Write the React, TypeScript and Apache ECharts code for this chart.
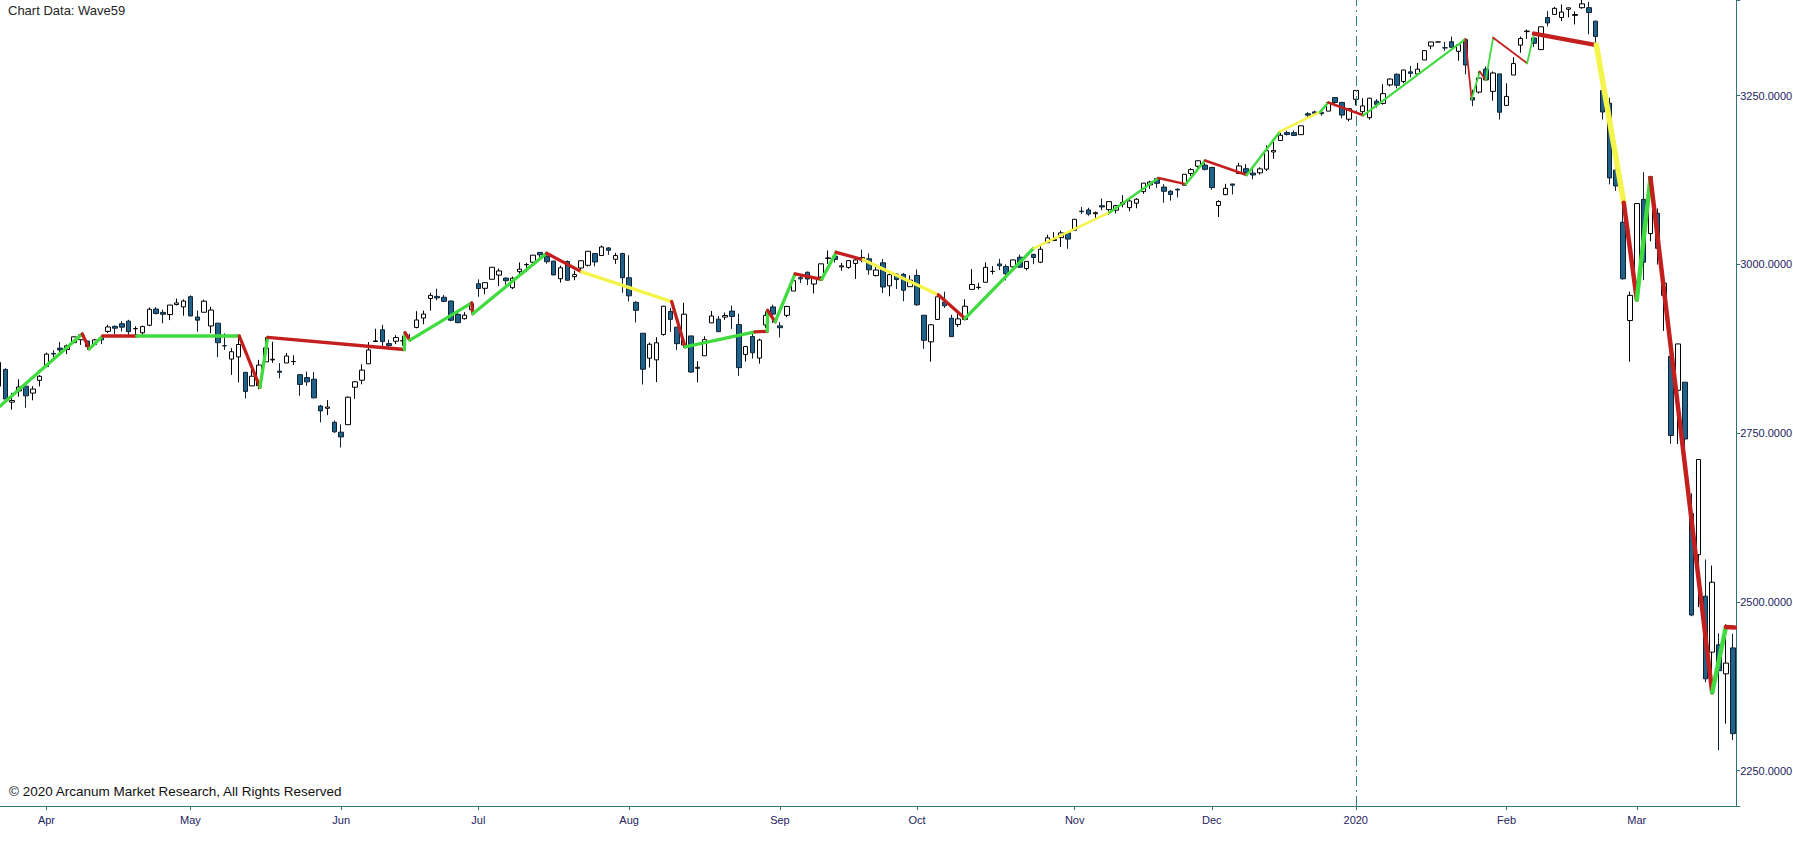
import React, { useEffect, useRef } from "react";
import * as echarts from "echarts";

// ---------- categories (trading days, as listed in the chart's data) ----------
const tradingDays: [string, number[]][] = [
  ["2019-03", [21, 22, 25, 26, 27, 28, 29]],
  ["2019-04", [1, 2, 3, 4, 5, 8, 9, 10, 11, 12, 15, 16, 17, 18, 22, 23, 24, 25, 26, 29, 30]],
  ["2019-05", [1, 2, 3, 6, 7, 8, 9, 10, 13, 14, 15, 16, 17, 20, 21, 22, 23, 24, 28, 29, 30, 31]],
  ["2019-06", [3, 4, 5, 6, 7, 10, 11, 12, 13, 14, 17, 18, 19, 20, 21, 24, 25, 26, 27, 28]],
  ["2019-07", [1, 2, 3, 5, 8, 9, 10, 11, 12, 15, 16, 17, 18, 19, 22, 23, 24, 25, 26, 29, 30, 31]],
  ["2019-08", [1, 2, 5, 6, 7, 8, 9, 12, 13, 14, 15, 16, 19, 20, 21, 22, 23, 26, 27, 28, 29, 30]],
  ["2019-09", [3, 4, 5, 6, 9, 10, 11, 12, 13, 16, 17, 18, 19, 20, 23, 24, 25, 26, 27, 30]],
  ["2019-10", [1, 2, 3, 4, 7, 8, 9, 10, 11, 14, 15, 16, 17, 18, 21, 22, 23, 24, 25, 28, 29, 30, 31]],
  ["2019-11", [1, 4, 5, 6, 7, 8, 11, 12, 13, 14, 15, 18, 19, 20, 21, 22, 25, 26, 27, 29]],
  ["2019-12", [2, 3, 4, 5, 6, 9, 10, 11, 12, 13, 16, 17, 18, 19, 20, 23, 24, 26, 27, 30, 31]],
  ["2020-01", [2, 3, 6, 7, 8, 9, 10, 13, 14, 15, 16, 17, 20, 21, 22, 23, 24, 27, 28, 29, 30, 31]],
  ["2020-02", [3, 4, 5, 6, 7, 10, 11, 12, 13, 14, 18, 19, 20, 21, 24, 25, 26, 27, 28]],
  ["2020-03", [2, 3, 4, 5, 6, 9, 10, 11, 12, 13, 16, 17, 18, 19, 20]],
];

const monthNames = ["Jan", "Feb", "Mar", "Apr", "May", "Jun", "Jul", "Aug", "Sep", "Oct", "Nov", "Dec"];

// ---------- prices: [open, high, low, close] ----------
const ohlcMar19 = [
  [2819.72, 2860.31, 2817.38, 2854.88], [2844.52, 2846.16, 2800.47, 2800.71], [2796.01, 2809.79, 2785.02, 2798.36],
  [2812.66, 2829.87, 2803.99, 2818.46], [2819.72, 2825.56, 2787.72, 2805.37], [2809.4, 2819.71, 2798.77, 2815.44],
  [2828.27, 2836.03, 2819.23, 2834.4],
];
const ohlcApr19 = [
  [2848.63, 2869.4, 2848.63, 2867.19], [2868.24, 2872.9, 2858.75, 2867.24], [2876.09, 2885.25, 2865.17, 2873.4],
  [2873.99, 2881.28, 2867.14, 2879.39], [2884.16, 2893.24, 2882.99, 2892.74], [2888.46, 2895.95, 2880.78, 2895.77],
  [2886.58, 2886.88, 2873.33, 2878.2], [2881.37, 2889.71, 2879.13, 2888.21], [2891.92, 2893.42, 2881.99, 2888.32],
  [2900.86, 2910.54, 2898.37, 2907.41], [2908.32, 2909.6, 2896.48, 2905.58], [2912.26, 2916.06, 2900.71, 2907.06],
  [2916.04, 2918.0, 2895.45, 2900.45], [2904.81, 2908.4, 2891.9, 2905.03], [2898.78, 2909.51, 2896.35, 2907.97],
  [2909.99, 2936.31, 2908.53, 2933.68], [2934.0, 2936.83, 2926.05, 2927.25], [2928.99, 2933.1, 2912.84, 2926.17],
  [2925.81, 2939.88, 2917.56, 2939.88], [2940.58, 2949.52, 2939.35, 2943.03], [2937.14, 2948.22, 2924.11, 2945.83],
];
const ohlcMay19 = [
  [2952.33, 2954.13, 2923.36, 2923.73], [2922.16, 2931.68, 2900.5, 2917.52], [2929.21, 2947.85, 2929.21, 2945.64],
  [2908.89, 2937.32, 2898.21, 2932.47], [2913.03, 2913.03, 2862.6, 2884.05], [2879.61, 2897.96, 2873.28, 2879.42],
  [2859.84, 2875.97, 2836.4, 2870.72], [2863.1, 2891.31, 2825.39, 2881.4], [2840.19, 2840.19, 2801.43, 2811.87],
  [2820.12, 2852.54, 2820.12, 2834.41], [2820.38, 2858.68, 2815.08, 2850.96], [2855.8, 2892.15, 2855.8, 2876.32],
  [2858.6, 2885.48, 2854.23, 2859.53], [2841.94, 2853.86, 2831.29, 2840.23], [2854.02, 2868.88, 2854.02, 2864.36],
  [2856.06, 2865.47, 2851.11, 2856.27], [2836.7, 2836.7, 2805.49, 2822.24], [2832.41, 2841.36, 2820.19, 2826.06],
  [2830.03, 2840.51, 2801.58, 2802.39], [2790.25, 2792.03, 2766.06, 2783.02], [2786.94, 2799.0, 2776.74, 2788.86],
  [2766.15, 2768.98, 2750.52, 2752.06],
];
const ohlcJun19 = [
  [2751.53, 2763.07, 2728.81, 2744.45], [2762.64, 2804.49, 2762.64, 2803.27], [2818.09, 2827.28, 2800.92, 2826.15],
  [2828.51, 2852.1, 2822.45, 2843.49], [2852.87, 2884.97, 2852.87, 2873.34], [2885.83, 2904.77, 2885.51, 2886.73],
  [2903.27, 2910.61, 2878.53, 2885.72], [2882.73, 2888.57, 2874.68, 2879.84], [2886.24, 2895.24, 2881.99, 2891.64],
  [2886.82, 2894.45, 2879.62, 2886.98], [2889.75, 2897.27, 2887.3, 2889.67], [2906.71, 2930.79, 2905.44, 2917.75],
  [2920.55, 2931.74, 2911.43, 2926.46], [2949.6, 2958.06, 2931.5, 2954.18], [2952.71, 2964.15, 2946.87, 2950.46],
  [2951.42, 2954.92, 2944.05, 2945.35], [2945.78, 2946.52, 2916.01, 2917.38], [2926.07, 2932.59, 2912.99, 2913.78],
  [2919.66, 2929.3, 2918.57, 2924.92], [2932.94, 2943.98, 2929.05, 2941.76],
];
const ohlcJul19 = [
  [2971.41, 2977.93, 2952.22, 2964.33], [2964.66, 2973.21, 2955.92, 2973.01], [2978.08, 2995.84, 2977.96, 2995.82],
  [2984.25, 2994.03, 2967.97, 2990.41], [2979.77, 2980.76, 2970.09, 2975.95], [2965.52, 2981.9, 2963.44, 2979.63],
  [2989.3, 3002.98, 2984.62, 2993.07], [2999.62, 3002.33, 2988.8, 2999.91], [3003.36, 3013.92, 3001.87, 3013.77],
  [3017.8, 3017.8, 3008.77, 3014.3], [3012.13, 3015.02, 3001.15, 3004.04], [3005.1, 3005.26, 2984.25, 2984.42],
  [2978.87, 2998.28, 2973.09, 2995.11], [3004.26, 3006.02, 2975.86, 2976.61], [2981.93, 2990.71, 2976.65, 2985.03],
  [2994.74, 3005.9, 2988.56, 3005.47], [2998.77, 3019.59, 2996.82, 3019.56], [3016.26, 3016.31, 2997.24, 3003.67],
  [3013.25, 3027.98, 3012.59, 3025.86], [3024.47, 3025.61, 3014.3, 3020.97], [3007.66, 3017.19, 3000.94, 3013.18],
  [3016.22, 3017.4, 2958.08, 2980.38],
];
const ohlcAug19 = [
  [2980.32, 3013.59, 2945.23, 2953.56], [2943.9, 2945.5, 2914.11, 2932.05], [2898.07, 2898.07, 2822.12, 2844.74],
  [2861.18, 2884.4, 2847.42, 2881.77], [2858.65, 2892.17, 2825.71, 2883.98], [2896.21, 2938.72, 2894.47, 2938.09],
  [2930.51, 2935.75, 2900.15, 2918.65], [2907.07, 2907.58, 2873.14, 2882.7], [2880.72, 2943.31, 2877.05, 2926.32],
  [2894.15, 2894.15, 2839.64, 2840.6], [2846.2, 2856.67, 2825.51, 2847.6], [2864.74, 2893.63, 2864.74, 2888.68],
  [2913.48, 2931.0, 2913.48, 2923.65], [2919.01, 2923.63, 2899.6, 2900.51], [2922.04, 2928.73, 2917.91, 2924.43],
  [2930.94, 2939.08, 2904.51, 2922.95], [2911.07, 2927.01, 2834.97, 2847.11], [2866.7, 2879.27, 2856.0, 2878.38],
  [2893.14, 2898.79, 2860.59, 2869.16], [2861.28, 2890.03, 2853.05, 2887.94], [2910.37, 2930.5, 2905.67, 2924.58],
  [2937.09, 2940.43, 2913.32, 2926.46],
];
const ohlcSep19 = [
  [2909.01, 2914.39, 2891.85, 2906.27], [2924.67, 2938.84, 2921.86, 2937.78], [2960.6, 2985.86, 2960.6, 2976.0],
  [2980.33, 2985.03, 2972.51, 2978.71], [2988.43, 2989.43, 2969.39, 2978.43], [2971.01, 2979.39, 2957.01, 2979.39],
  [2981.41, 3000.93, 2975.31, 3000.93], [3009.08, 3020.74, 3000.92, 3009.57], [3012.21, 3017.33, 3002.9, 3007.39],
  [2996.41, 3002.19, 2990.67, 2997.96], [2995.67, 3006.21, 2993.73, 3005.7], [3001.5, 3007.83, 2978.57, 3006.73],
  [3010.36, 3021.99, 3003.16, 3006.79], [3008.42, 3016.37, 2984.68, 2992.07], [2983.5, 2999.15, 2982.23, 2991.78],
  [3002.43, 3007.98, 2957.73, 2966.6], [2968.35, 2989.82, 2952.86, 2984.87], [2985.73, 2987.28, 2963.71, 2977.62],
  [2985.47, 2987.31, 2945.53, 2961.79], [2967.07, 2983.85, 2967.07, 2976.74],
];
const ohlcOct19 = [
  [2983.69, 2992.53, 2938.7, 2940.25], [2924.78, 2924.78, 2874.93, 2887.61], [2885.38, 2911.13, 2855.94, 2910.63],
  [2918.56, 2953.74, 2918.56, 2952.01], [2944.23, 2959.75, 2935.68, 2938.79], [2920.4, 2925.47, 2892.66, 2893.06],
  [2911.1, 2929.32, 2907.41, 2919.4], [2918.55, 2948.46, 2917.12, 2938.13], [2963.07, 2993.28, 2963.07, 2970.27],
  [2965.81, 2972.84, 2962.94, 2966.15], [2973.61, 3003.28, 2973.61, 2995.68], [2989.68, 2997.54, 2985.2, 2989.69],
  [3000.77, 3008.29, 2991.79, 2997.95], [2996.84, 3000.0, 2976.31, 2986.2], [2996.48, 3007.33, 2995.35, 3006.72],
  [3010.73, 3014.57, 2995.04, 2995.99], [2994.01, 3004.78, 2991.21, 3004.52], [3014.78, 3016.07, 3000.42, 3010.29],
  [3003.32, 3027.39, 3001.94, 3022.55], [3032.12, 3044.08, 3032.12, 3039.42], [3035.39, 3047.87, 3034.81, 3036.89],
  [3039.74, 3050.1, 3025.96, 3046.77], [3046.9, 3046.9, 3023.19, 3037.56],
];
const ohlcNov19 = [
  [3050.72, 3066.95, 3050.72, 3066.91], [3078.96, 3085.2, 3074.87, 3078.27], [3080.8, 3083.95, 3072.15, 3074.62],
  [3075.1, 3078.34, 3065.89, 3076.78], [3087.02, 3097.77, 3080.23, 3085.18], [3081.25, 3093.09, 3073.58, 3093.08],
  [3080.33, 3088.33, 3075.82, 3087.01], [3089.28, 3102.61, 3084.73, 3091.84], [3084.18, 3098.06, 3078.8, 3094.04],
  [3090.75, 3098.2, 3083.26, 3096.63], [3107.92, 3120.46, 3104.6, 3120.46], [3117.91, 3124.17, 3112.06, 3122.03],
  [3127.45, 3127.64, 3113.47, 3120.18], [3114.66, 3118.97, 3091.41, 3108.46], [3108.49, 3110.11, 3094.55, 3103.54],
  [3111.41, 3112.87, 3099.26, 3110.29], [3117.44, 3133.83, 3117.44, 3133.64], [3134.85, 3142.69, 3131.0, 3140.52],
  [3145.49, 3154.26, 3143.41, 3153.63], [3147.18, 3150.3, 3139.34, 3140.98],
];
const ohlcDec19 = [
  [3143.85, 3144.31, 3110.78, 3113.87], [3087.41, 3094.97, 3070.33, 3093.2], [3103.5, 3119.38, 3102.53, 3112.76],
  [3119.21, 3119.45, 3103.76, 3117.43], [3134.62, 3150.6, 3134.62, 3145.91], [3141.86, 3148.87, 3135.46, 3135.96],
  [3135.36, 3142.12, 3126.09, 3132.52], [3135.75, 3143.98, 3133.21, 3141.63], [3141.23, 3176.28, 3138.47, 3168.57],
  [3166.65, 3182.68, 3156.51, 3168.8], [3183.63, 3197.71, 3183.63, 3191.45], [3195.4, 3198.22, 3191.03, 3192.52],
  [3195.21, 3198.48, 3191.14, 3191.14], [3192.32, 3205.48, 3192.32, 3205.37], [3223.33, 3225.65, 3216.03, 3221.22],
  [3226.05, 3227.78, 3222.3, 3224.01], [3225.45, 3226.43, 3220.51, 3223.38], [3227.2, 3240.08, 3227.2, 3239.91],
  [3247.23, 3247.93, 3234.37, 3240.02], [3240.09, 3240.92, 3216.57, 3221.29], [3215.18, 3231.72, 3212.03, 3230.78],
];
const ohlcJan20 = [
  [3244.67, 3258.14, 3235.53, 3257.85], [3226.36, 3246.15, 3222.34, 3234.85], [3217.55, 3246.84, 3214.64, 3246.28],
  [3241.86, 3244.91, 3232.43, 3237.18], [3238.59, 3267.07, 3236.67, 3253.05], [3266.03, 3275.58, 3263.67, 3274.7],
  [3281.81, 3282.99, 3260.86, 3265.35], [3271.13, 3288.13, 3268.43, 3288.13], [3285.35, 3294.25, 3277.19, 3283.15],
  [3282.27, 3298.66, 3280.69, 3289.29], [3302.97, 3317.11, 3302.82, 3316.81], [3323.66, 3329.88, 3318.86, 3329.62],
  [3329.62, 3329.62, 3329.62, 3329.62], [3321.03, 3329.79, 3316.61, 3320.79], [3330.02, 3337.77, 3320.04, 3321.75],
  [3315.77, 3326.88, 3301.87, 3325.54], [3333.1, 3333.18, 3281.53, 3295.47], [3247.16, 3258.85, 3234.5, 3243.63],
  [3255.35, 3285.78, 3253.22, 3276.24], [3289.46, 3293.47, 3271.89, 3273.4], [3256.45, 3285.91, 3242.8, 3283.66],
  [3282.33, 3282.33, 3214.68, 3225.52],
];
const ohlcFeb20 = [
  [3235.66, 3268.44, 3235.66, 3248.92], [3280.61, 3306.92, 3280.61, 3297.59], [3324.91, 3337.58, 3313.75, 3334.69],
  [3344.92, 3347.96, 3334.39, 3345.78], [3335.54, 3341.42, 3322.12, 3327.71], [3318.28, 3352.26, 3317.77, 3352.09],
  [3365.87, 3375.63, 3352.72, 3357.75], [3370.5, 3381.47, 3369.72, 3379.45], [3365.9, 3385.09, 3360.52, 3373.94],
  [3378.08, 3380.69, 3366.15, 3380.16], [3369.04, 3375.01, 3355.61, 3370.29], [3380.39, 3393.52, 3378.83, 3386.15],
  [3380.45, 3389.15, 3341.02, 3373.23], [3360.5, 3360.76, 3328.45, 3337.75], [3257.61, 3259.81, 3214.65, 3225.89],
  [3238.94, 3246.99, 3118.77, 3128.21], [3139.9, 3182.51, 3108.99, 3116.39], [3062.54, 3097.07, 2977.39, 2978.76],
  [2916.9, 2959.72, 2855.84, 2954.22],
];
const ohlcMar20 = [
  [2974.28, 3090.96, 2945.19, 3090.23], [3096.46, 3136.72, 2976.63, 3003.37], [3045.75, 3130.97, 3034.38, 3130.12],
  [3075.7, 3083.04, 2999.83, 3023.94], [2954.2, 2985.93, 2901.54, 2972.37], [2863.89, 2863.89, 2734.43, 2746.56],
  [2813.48, 2882.59, 2734.0, 2882.23], [2825.6, 2825.6, 2707.22, 2741.38], [2630.86, 2660.95, 2478.86, 2480.64],
  [2569.99, 2711.33, 2492.37, 2711.02], [2508.59, 2562.98, 2380.94, 2386.13], [2425.66, 2553.93, 2367.04, 2529.19],
  [2436.5, 2453.57, 2280.52, 2398.1], [2393.48, 2466.97, 2319.78, 2409.39], [2431.94, 2453.01, 2295.56, 2304.92],
];

// ---------- Wave59 trend line: vertices (bar index, price) ----------
const waveX = [
  0.2, 12.22, 13.24, 15.2, 20.16, 35.13, 38.15, 39.27, 59.2, 59.3, 60.03, 69.03, 69.2, 79.97, 85.07, 98.2,
  100.15, 110.35, 112.15, 112.2, 113.3, 116.2, 120.1, 122.2, 126.15, 137.1, 141.0, 151.0, 162.1, 169.2,
  173.2, 176.0, 182.1, 186.95, 192.8, 194.0, 199.1, 214.0, 214.9, 216.1, 216.95, 218.05, 223.0, 224.0,
  233.1, 237.1, 239.0, 241.0, 250.0, 252.0, 253.3,
];
const waveY = [
  2790, 2897, 2875, 2894, 2894, 2894, 2818, 2892, 2874, 2899, 2888, 2943, 2927, 3016.5, 2989, 2945,
  2878, 2900, 2901, 2932, 2915, 2986, 2978, 3018, 3007, 2955, 2920, 3024, 3077, 3128,
  3119, 3154, 3132.5, 3197, 3226, 3240, 3221, 3334, 3245, 3286, 3273, 3336, 3298, 3342,
  3325, 3091.5, 2948, 3128, 2366, 2463, 2462,
];
// segment i joins vertex i and i+1: G = up, R = down, Y = neutral
const waveSegColors = "GRGRGRGRGRGRGRYRGRGRGRGRYRGYGRGRGYGRGRGRGRGRYRGRGR";
const waveSegWidths = [
  3.3, 3.3, 3.3, 3.3, 3.3, 3.3, 3.3, 3.3, 3.3, 3.3, 3.3, 3.3, 3.3, 3.3, 3.3, 3.3, 3.3, 3.3, 3.3, 3.3,
  3.3, 3.3, 3.3, 3.3, 3.3, 3.3, 3.3, 2.5, 2.5, 2.5, 2.5, 2.5, 2.5, 2.5, 2.5, 2.5, 2.2, 1.8, 1.8, 1.8,
  1.8, 1.8, 1.8, 4.5, 5.5, 4.5, 4.5, 4.5, 4.5, 4.5,
];

const yTicks = [2250, 2500, 2750, 3000, 3250];

const COLORS: Record<string, string> = { G: "#3fdb3f", R: "#c41f1f", Y: "#f4f44a" };
const AXIS = "#2e7479";
const LABEL = "#23235e";
const FONT = "Liberation Sans";

export default function App() {
  const ref = useRef<HTMLDivElement>(null);

  useEffect(() => {
    if (!ref.current) return;
    const chart = echarts.init(ref.current, null, { renderer: "svg" });

    const dates: string[] = [];
    tradingDays.forEach(([ym, days]) => days.forEach((d) => dates.push(`${ym}-${String(d).padStart(2, "0")}`)));
    const ohlc = [
      ...ohlcMar19, ...ohlcApr19, ...ohlcMay19, ...ohlcJun19, ...ohlcJul19, ...ohlcAug19, ...ohlcSep19,
      ...ohlcOct19, ...ohlcNov19, ...ohlcDec19, ...ohlcJan20, ...ohlcFeb20, ...ohlcMar20,
    ];
    const candles = ohlc.map(([o, h, l, c]) => [o, c, l, h]);

    const isMonthStart = (i: number) => i > 0 && dates[i].slice(0, 7) !== dates[i - 1].slice(0, 7);
    const monthLabel = (v: string) => {
      const m = parseInt(v.slice(5, 7), 10);
      return m === 1 ? v.slice(0, 4) : monthNames[m - 1];
    };
    const jan2020 = dates.indexOf("2020-01-02");

    const waveSeries = waveSegColors.split("").map((c, i) => ({
      type: "line",
      xAxisIndex: 1,
      yAxisIndex: 0,
      data: [
        [waveX[i], waveY[i]],
        [waveX[i + 1], waveY[i + 1]],
      ],
      symbol: "none",
      silent: true,
      z: 5,
      lineStyle: { color: COLORS[c], width: waveSegWidths[i], cap: "round", join: "round" },
    }));

    chart.setOption({
      animation: false,
      backgroundColor: "#ffffff",
      grid: { left: -4.93, right: 56.8, top: 0, bottom: 42, containLabel: false, outerBoundsMode: "none" },
      xAxis: [
        {
          type: "category",
          data: dates,
          boundaryGap: true,
          axisLine: { show: true, onZero: false, lineStyle: { color: AXIS, width: 1 } },
          axisTick: {
            show: true,
            alignWithLabel: true,
            interval: (i: number) => isMonthStart(i),
            length: 4,
            lineStyle: { color: AXIS },
          },
          axisLabel: {
            interval: (i: number) => isMonthStart(i),
            formatter: (v: string) => monthLabel(v),
            color: LABEL,
            fontSize: 11,
            fontFamily: FONT,
            margin: 8,
          },
          splitLine: { show: false },
        },
        {
          type: "value",
          min: -0.5,
          max: dates.length - 0.5,
          show: false,
          axisLine: { show: false, onZero: false },
          axisTick: { show: false },
          axisLabel: { show: false },
          splitLine: { show: false },
        },
      ],
      yAxis: {
        type: "value",
        position: "right",
        min: 2197.7,
        max: 3391.8,
        minInterval: 250,
        maxInterval: 250,
        splitNumber: 5,
        axisLine: { show: true, onZero: false, lineStyle: { color: AXIS, width: 1 } },
        axisTick: { show: true, length: 4, lineStyle: { color: AXIS } },
        axisLabel: {
          formatter: (v: number) => (yTicks.includes(Math.round(v * 1000) / 1000) ? v.toFixed(4) : ""),
          color: LABEL,
          fontSize: 11,
          fontFamily: FONT,
          margin: 4,
        },
        splitLine: { show: false },
      },
      graphic: [
        {
          type: "text",
          left: 8,
          top: 4,
          style: { text: "Chart Data: Wave59", fontSize: 13, fontFamily: FONT, fill: "#262626" },
        },
        {
          type: "text",
          left: 9,
          top: 784,
          style: {
            text: "\u00a9 2020 Arcanum Market Research, All Rights Reserved",
            fontSize: 13.5,
            fontFamily: FONT,
            fill: "#111111",
          },
        },
      ],
      series: [
        {
          type: "candlestick",
          data: candles,
          barWidth: 5,
          clip: false,
          z: 2,
          itemStyle: {
            color: "#ffffff",
            color0: "#1f6189",
            borderColor: "#000000",
            borderColor0: "#0e2233",
            borderWidth: 1,
          },
          markLine: {
            silent: true,
            symbol: ["none", "none"],
            label: { show: false },
            lineStyle: { color: "#2f7f80", type: [10, 4, 2, 4], width: 1 },
            data: [{ xAxis: jan2020 }],
          },
        },
        ...waveSeries,
      ],
    });

    return () => chart.dispose();
  }, []);

  return (
    <div
      ref={ref}
      style={{ position: "fixed", left: 0, top: 0, width: 1793, height: 848, background: "#ffffff" }}
    />
  );
}
